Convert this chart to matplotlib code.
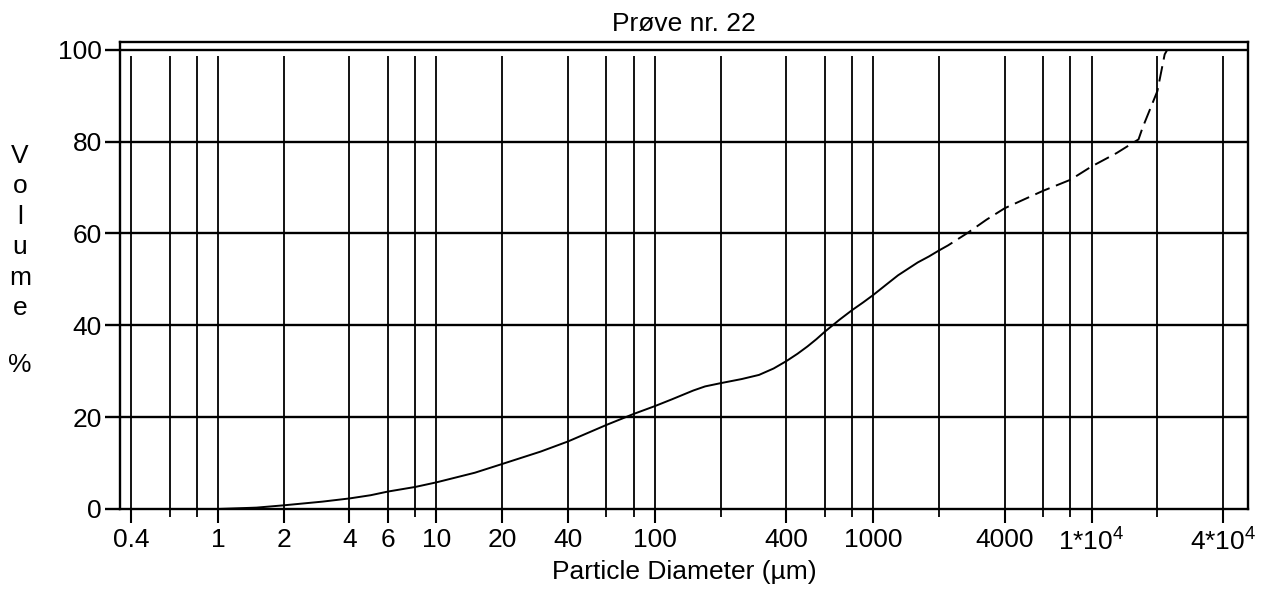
import matplotlib
matplotlib.use("Agg")
import matplotlib.pyplot as plt

plt.rcParams['font.family'] = ['Liberation Sans', 'DejaVu Sans']
plt.rcParams['mathtext.default'] = 'regular'

# measured curve (particle diameter in um, cumulative volume %)
solid_d = [1, 1.5, 2, 3, 4, 5, 6, 8, 10, 15, 20, 30, 40, 60, 80, 100,
           120, 150, 170, 200, 250, 300, 350, 400, 450, 500, 550, 600, 700,
           800, 900, 1000, 1150, 1300, 1600, 1800, 2000]
solid_v = [0, 0.3, 0.8, 1.6, 2.3, 3.0, 3.8, 4.8, 5.8, 7.9, 9.8, 12.5, 14.7,
           18.3, 20.7, 22.4, 23.9, 25.8, 26.7, 27.4, 28.3, 29.2, 30.6, 32.2,
           33.8, 35.4, 37.0, 38.6, 41.2, 43.3, 45.0, 46.6, 48.9, 50.9, 53.7,
           55.0, 56.3]
dash_d = [2000, 2200, 2700, 3300, 4000, 5000, 6000, 8000, 10000, 13000,
          16400, 17100, 20000, 21600, 22200]
dash_v = [56.3, 57.4, 60.1, 63.0, 65.5, 67.6, 69.3, 71.7, 74.6, 77.5,
          80.5, 83.0, 91.0, 99.0, 100]

label_ticks = [0.4, 1, 2, 4, 6, 10, 20, 40, 100, 400, 1000, 4000, 1e4, 4e4]
label_text = ['0.4', '1', '2', '4', '6', '10', '20', '40', '100', '400',
              '1000', '4000', '1*10$^4$', '4*10$^4$']
minor_ticks = [0.6, 0.8, 8, 60, 80, 200, 600, 800, 2000, 6000, 8000, 2e4]
y_ticks = [0, 20, 40, 60, 80, 100]

fig = plt.figure(figsize=(12.64, 5.9), dpi=100)
ax = fig.add_axes([120 / 1264, 1 - 509 / 590, 1128 / 1264, 467 / 590])

ax.set_xscale('log')
ax.set_xlim(0.356, 52000)
ax.set_ylim(0, 101.7)

# vertical grid lines (stop just under the 100 line)
ax.vlines(sorted(label_ticks + minor_ticks), 0, 98.7, color='black', lw=1.3)
# horizontal grid lines
for yv in y_ticks[1:]:
    ax.axhline(yv, color='black', lw=1.7)

ax.plot(solid_d, solid_v, color='black', lw=1.4)
ax.plot(dash_d, dash_v, color='black', lw=1.4, linestyle=(0, (8, 3.5)))

ax.set_xticks(label_ticks)
ax.set_xticklabels(label_text)
ax.set_xticks(minor_ticks, minor=True)
ax.xaxis.set_minor_formatter(matplotlib.ticker.NullFormatter())
ax.tick_params(axis='x', which='major', length=10, width=1.5, pad=4, labelsize=19)
ax.tick_params(axis='x', which='minor', length=6, width=1.3)
ax.set_yticks(y_ticks)
ax.tick_params(axis='y', length=11, width=1.7, pad=2, labelsize=19)

for s in ax.spines.values():
    s.set_linewidth(1.7)

ax.set_title('Prøve nr. 22', fontsize=19, pad=8)
ax.set_xlabel('Particle Diameter (µm)', fontsize=19, labelpad=3)

# stacked y label
for i, ch in enumerate('Volume'):
    fig.text(20 / 1264, 1 - (163 + 30.4 * i) / 590, ch, fontsize=19,
             ha='center', va='baseline')
fig.text(20 / 1264, 1 - 372 / 590, '%', fontsize=19, ha='center', va='baseline')

fig.savefig('out.png', dpi=100)
